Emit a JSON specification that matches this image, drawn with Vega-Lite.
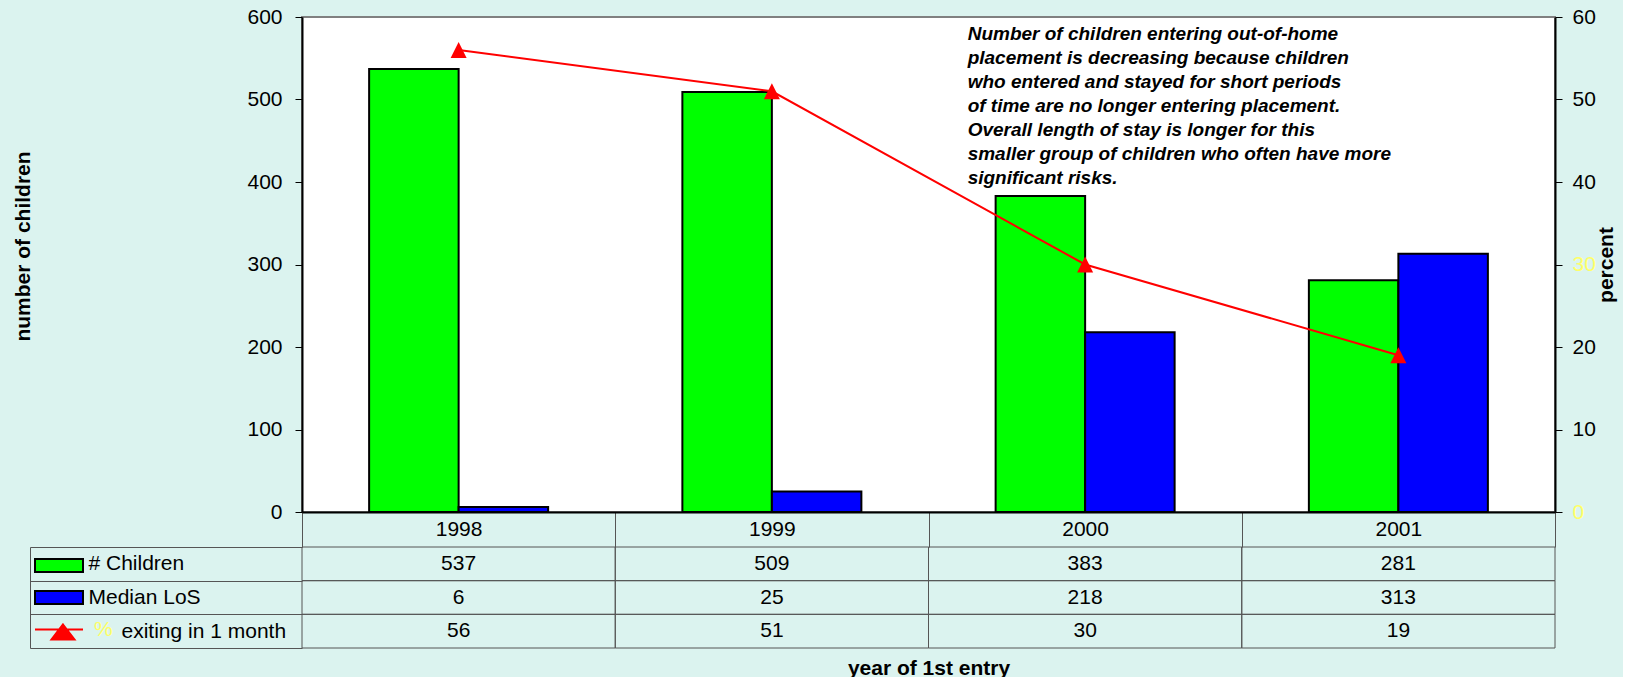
{
  "$schema": "https://vega.github.io/schema/vega-lite/v6.json",
  "autosize": {"type": "pad"},
  "padding": {"left": 11, "top": 5, "right": 5, "bottom": 5},
  "background": "#dbf3ef",
  "config": {
    "font": "Liberation Sans, Arial, sans-serif",
    "view": {"stroke": null},
    "axis": {"labelFontSize": 21, "titleFontSize": 21, "labelColor": "black", "titleColor": "black", "grid": false, "titleFontWeight": "bold"}
  },
  "datasets": {
    "d": [
      {"year": "1998", "series": "# Children", "value": 537},
      {"year": "1998", "series": "Median LoS", "value": 6},
      {"year": "1998", "series": "% exiting in 1 month", "value": 56},
      {"year": "1999", "series": "# Children", "value": 509},
      {"year": "1999", "series": "Median LoS", "value": 25},
      {"year": "1999", "series": "% exiting in 1 month", "value": 51},
      {"year": "2000", "series": "# Children", "value": 383},
      {"year": "2000", "series": "Median LoS", "value": 218},
      {"year": "2000", "series": "% exiting in 1 month", "value": 30},
      {"year": "2001", "series": "# Children", "value": 281},
      {"year": "2001", "series": "Median LoS", "value": 313},
      {"year": "2001", "series": "% exiting in 1 month", "value": 19}
    ]
  },
  "bounds": "flush",
  "spacing": 35,
  "vconcat": [
    {
      "width": 1253,
      "height": 495,
      "view": {"fill": "white", "stroke": "#808080", "strokeWidth": 2},
      "data": {"name": "d"},
      "encoding": {
        "x": {
          "field": "year", "type": "ordinal",
          "scale": {"paddingInner": 0, "paddingOuter": 0},
          "axis": {"title": null, "tickBand": "extent", "tickSize": 35, "tickColor": "#555555", "domainColor": "black", "domainWidth": 2, "labelAngle": 0, "labelBaseline": "middle", "labelPadding": -17.5}
        }
      },
      "layer": [
        {
          "layer": [
            {
              "transform": [{"filter": "datum.series != '% exiting in 1 month'"}],
              "mark": {"type": "bar", "stroke": "black", "strokeWidth": 2},
              "encoding": {
                "xOffset": {"field": "series", "type": "nominal", "scale": {"domain": ["# Children", "Median LoS"], "paddingInner": 0, "paddingOuter": 0.75}},
                "y": {
                  "field": "value", "type": "quantitative",
                  "scale": {"domain": [0, 600], "nice": false},
                  "axis": {"title": "number of children", "values": [0, 100, 200, 300, 400, 500, 600], "tickSize": 7, "tickColor": "black", "domainColor": "black", "domainWidth": 2, "labelPadding": 13, "titlePadding": 213, "titleY": 229}
                },
                "color": {
                  "field": "series", "type": "nominal",
                  "scale": {"domain": ["# Children", "Median LoS", "% exiting in 1 month"], "range": ["#00ff00", "#0000ff", "#ff0000"]},
                  "legend": {
                    "title": null, "orient": "none", "legendX": -254, "legendY": 537.5, "direction": "vertical",
                    "symbolSize": 400, "symbolStrokeWidth": 2, "labelFontSize": 21, "labelColor": "#ffff66", "labelOffset": 24, "rowPadding": 10,
                    "labelExpr": "datum.value == '% exiting in 1 month' ? '%' : ''",
                    "symbolType": {"expr": "datum.value == '% exiting in 1 month' ? 'M-2.4,0L2.4,0M0.4,-0.5L1.55,1L-0.75,1Z' : 'M-2.4,-0.65L2.4,-0.65L2.4,0.65L-2.4,0.65Z'"},
                    "symbolStrokeColor": {"expr": "datum.value == '% exiting in 1 month' ? '#ff0000' : 'black'"}
                  }
                }
              }
            },
            {
              "data": {"values": [{"note": "Number of children entering out-of-home\nplacement is decreasing because children\nwho entered and stayed for short periods\nof time are no longer entering placement.\nOverall length of stay is longer for this\nsmaller group of children who often have more\nsignificant risks."}]},
              "mark": {"type": "text", "align": "left", "baseline": "top", "lineBreak": "\n", "lineHeight": 24, "fontSize": 19, "fontWeight": "bold", "fontStyle": "italic", "color": "black"},
              "encoding": {
                "x": {"datum": "2000", "type": "ordinal", "bandPosition": 0.125},
                "y": {"datum": 590, "type": "quantitative"},
                "text": {"field": "note"}
              }
            }
          ]
        },
        {
          "transform": [{"filter": "datum.series == '% exiting in 1 month'"}],
          "encoding": {
            "y": {
              "field": "value", "type": "quantitative",
              "scale": {"domain": [0, 60], "nice": false},
              "axis": {
                "orient": "right", "title": "percent", "values": [0, 10, 20, 30, 40, 50, 60], "tickSize": 7, "tickColor": "black", "domainColor": "black", "domainWidth": 2, "labelPadding": 10,
                "labelColor": {"condition": {"test": "datum.value == 30 || datum.value == 0", "value": "#ffff66"}, "value": "black"},
                "titleAngle": -90, "titleBaseline": "top", "titlePadding": 0
              }
            }
          },
          "layer": [
            {"mark": {"type": "line", "color": "#ff0000", "strokeWidth": 2}},
            {"mark": {"type": "point", "shape": "M0,-1L1,1L-1,1Z", "filled": true, "color": "#ff0000", "size": 256, "opacity": 1}}
          ]
        }
      ],
      "resolve": {"scale": {"y": "independent"}}
    },
    {
      "width": 1253,
      "height": 101,
      "data": {"name": "d"},
      "encoding": {
        "x": {
          "field": "year", "type": "ordinal",
          "scale": {"paddingInner": 0, "paddingOuter": 0},
          "axis": {"title": "year of 1st entry", "labels": false, "ticks": false, "domain": false, "titlePadding": 9}
        },
        "y": {
          "field": "series", "type": "nominal",
          "scale": {"domain": ["# Children", "Median LoS", "% exiting in 1 month"], "paddingInner": 0, "paddingOuter": 0},
          "axis": {
            "title": null, "offset": 272, "domainColor": "#555555", "tickBand": "extent", "tickSize": -272, "tickColor": "#555555",
            "labelAlign": "left", "labelBaseline": "middle",
            "labelPadding": {"condition": {"test": "datum.value == '% exiting in 1 month'", "value": 181}, "value": 214},
            "labelExpr": "datum.value == '% exiting in 1 month' ? 'exiting in 1 month' : datum.label"
          }
        }
      },
      "layer": [
        {"mark": {"type": "rect", "fill": "transparent", "stroke": "#555555", "strokeWidth": 1}},
        {"mark": {"type": "text", "fontSize": 21, "color": "black"}, "encoding": {"text": {"field": "value", "type": "quantitative"}}}
      ]
    }
  ]
}
